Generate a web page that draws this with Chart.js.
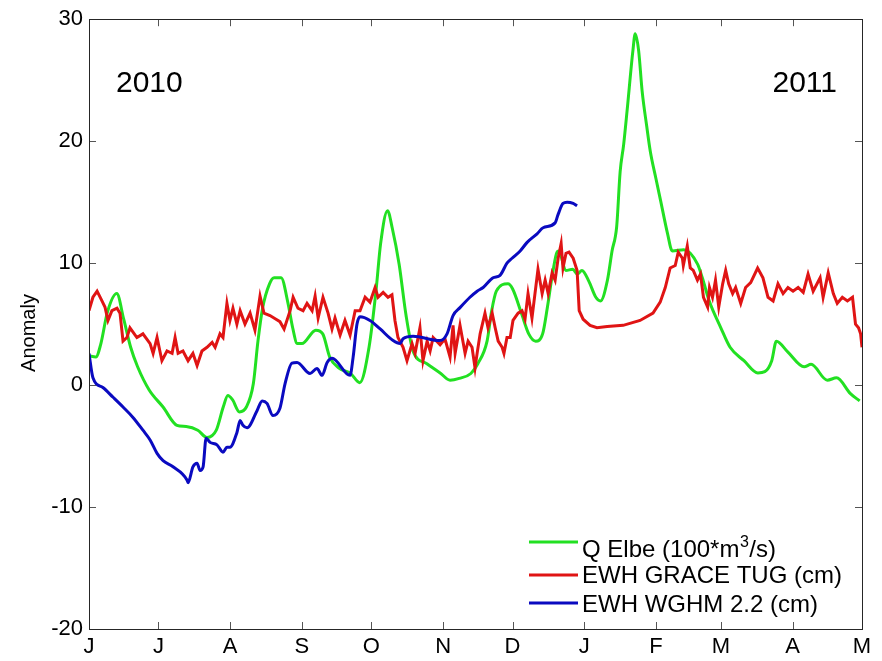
<!DOCTYPE html>
<html>
<head>
<meta charset="utf-8">
<script src="https://cdn.jsdelivr.net/npm/chart.js@4.4.0/dist/chart.umd.min.js"></script>
<style>
  html, body { margin: 0; padding: 0; background: #fff; }
  #wrap { width: 882px; height: 661px; position: relative; }
</style>
</head>
<body>
<div id="wrap"><canvas id="c"></canvas></div>
<script>
// Time axis: days since 1 June 2010, ticks at the first day of each month
const monthDays = [0, 30, 61, 92, 122, 153, 183, 214, 245, 273, 304, 334];
const monthLabels = ['J', 'J', 'A', 'S', 'O', 'N', 'D', 'J', 'F', 'M', 'A', 'M'];
const yTickValues = [-20, -10, 0, 10, 20, 30];
const seriesNames = ['Q Elbe (100*m\u00B3/s)', 'EWH GRACE TUG (cm)', 'EWH WGHM 2.2 (cm)'];

// Elbe discharge
const elbeDays = [0,3,5,8,12,15,18,21,26,32, 38,42,47,51,55,58,60,62,65,68,
  71,73,75,78,80,83,86,88,90,92, 98,101,104,108,113,117,121,124,126,129,
  131,134,137,140,146,152,156,160,165,168, 172,174,176,181,183,187,190,193,196,198,
  200,202,203,206,209,211,213,216,219,221, 224,226,228,229.5,231,232.5,235,236,237.5,239,
  241,242.5,245,247,250,252,257,263,265,268, 273,277,283,289,292,295,297,302,309,312,
  319,323,329,333];
const elbeValues = [2.4,2.3,3.3,6.0,7.5,5.4,3.1,1.5,-0.4,-1.8, -3.3,-3.4,-3.7,-4.3,-3.7,-1.8,-0.85,-1.2,-2.2,-1.8,
  0.1,3.6,6.3,8.3,8.8,8.8,6.7,4.7,3.4,3.4, 4.5,4.2,2.3,1.4,0.95,0.2,3.1,7.7,11.6,14.3,
  12.9,9.9,5.7,2.8,1.75,0.95,0.4,0.55,0.95,1.75, 3.6,6.1,7.7,8.3,7.9,5.8,4.2,3.6,4.2,6.3,
  8.8,10.8,11.0,9.4,9.5,9.1,9.4,8.5,7.2,6.9, 8.6,11.0,13.0,17.5,19.7,22.5,27.4,28.8,27.4,24.1,
  21.2,19.2,16.9,15.1,12.4,11.0,11.1,9.9,8.8,6.9, 4.7,3.1,2.0,1.0,1.1,2.0,3.6,2.7,1.5,1.7,
  0.4,0.6,-0.7,-1.3];

// GRACE TUG equivalent water height
const graceDays = [0,1.7,3.5,5.6,6.9,8.2,9.9,12.1,13.4,14.7,
  16.4,17.7,20.7,23.3,26.4,27.7,29.4,31.5,33.7,35.9,
  37.2,38.5,40.6,42.8,44.9,46.7,48.8,51.0,53.2,54.5,
  56.6,57.9,59.6,60.9,62.2,63.9,65.3,67.4,69.6,71.7,
  73.9,75.6,78.2,80.8,82.5,84.3,86.9,88.2,90.3,92.5,
  94.2,96.4,97.7,99.0,101.1,103.3,105.0,106.3,108.5,110.6,
  112.8,115.0,117.1,119.3,121.4,123.6,124.9,127.1,129.2,130.9,
  132.2,133.5,135.7,137.4,139.6,140.9,143.0,144.3,146.1,147.4,
  148.7,151.7,153.8,156.0,157.3,158.2,160.3,162.5,163.8,165.5,
  166.8,167.7,169.0,171.1,172.4,174.2,175.5,176.8,178.5,179.3,
  180.6,182.0,183.2,185.4,187.1,188.4,189.7,191.4,192.7,194.0,
  195.8,197.1,198.4,200.1,201.4,202.7,204.0,204.8,206.1,207.4,
  209.2,210.9,211.8,213.5,216.5,219.5,223.9,230.8,238.1,243.7,
  246.8,249.0,251.1,253.3,254.6,256.4,256.8,258.5,259.8,261.1,
  262.9,264.2,265.5,267.3,268.1,269.4,270.7,272.1,273.8,275.1,
  276.4,278.1,279.4,281.6,283.7,285.9,288.9,291.2,293.4,295.6,
  297.7,299.9,302.0,304.2,306.4,308.6,310.7,312.9,315.9,317.2,
  319.4,321.6,323.3,325.5,327.7,329.9,331.2,332.5,333.4,334];
const graceValues = [6.1,7.2,7.7,6.9,6.4,5.3,6.1,6.3,5.9,3.6,
  3.9,4.7,3.9,4.2,3.4,2.6,3.9,2.0,2.8,2.6,
  3.9,2.6,2.8,2.0,2.6,1.6,2.8,3.1,3.5,3.1,
  4.2,3.9,6.7,5.3,6.3,5.0,6.1,5.0,5.9,4.5,
  7.3,5.9,5.7,5.4,5.2,4.6,6.1,7.2,6.3,6.1,
  6.7,6.1,7.3,5.5,7.2,5.9,4.6,5.5,4.1,5.3,
  4.1,6.1,6.1,7.2,6.8,8.0,7.2,7.6,7.2,7.4,
  5.3,3.9,3.1,2.0,3.4,2.6,4.7,2.0,3.6,2.8,
  3.9,3.3,3.8,2.3,4.9,2.6,4.9,2.6,3.6,3.1,
  1.4,2.6,4.2,5.9,4.7,5.9,4.7,3.6,3.1,2.6,
  3.9,3.9,5.3,5.9,6.1,5.4,7.5,5.5,7.5,9.5,
  7.5,8.6,7.5,9.2,8.6,10.4,11.6,9.6,10.8,10.9,
  10.4,9.4,6.1,5.4,4.9,4.7,4.8,4.9,5.3,5.9,
  6.8,8.0,9.6,9.8,10.9,10.4,9.8,11.4,9.6,9.4,
  8.6,9.1,7.2,6.4,8.0,7.2,8.6,6.4,8.3,9.4,
  8.3,7.5,8.0,6.7,8.0,8.4,9.6,8.8,7.2,6.9,
  8.3,7.5,8.0,7.7,8.0,7.6,9.1,7.7,8.8,7.2,
  9.2,7.5,6.7,7.2,6.9,7.2,5.0,4.7,4.2,3.1];

// WGHM 2.2 equivalent water height
const wghmDays = [0,1.7,6,10.4,14.7,19,23.3,26.4,29.4,32,
  36.3,42.4,42.8,44.9,46.7,48,49.3,50.6,52.3,55.3,
  57.9,59.6,60.9,63.9,65.3,66.5,68.3,72.6,74.8,76.9,
  79.5,82.5,84.7,87.7,89.9,95.5,98.5,100.7,102.9,105,
  112.8,114.1,115.8,117.1,121.4,125.8,131.4,134.4,135.7,140,
  151.7,154.7,157.3,160.3,164.6,167.7,170.3,174.6,177.6,180.6,
  182.8,186.3,189.3,193.6,196.2,201.4,202.7,204.8,206.6,209.2,
  210.9];
const wghmValues = [2.6,0.6,-0.2,-1.0,-1.8,-2.65,-3.7,-4.5,-5.6,-6.2,
  -6.7,-7.8,-8.0,-6.7,-6.4,-7.0,-6.7,-4.35,-4.7,-4.9,
  -5.5,-5.1,-5.1,-3.9,-2.9,-3.3,-3.5,-2.1,-1.3,-1.5,
  -2.5,-1.9,0.1,1.8,1.85,0.95,1.35,0.8,1.85,2.2,
  0.8,2.25,5.0,5.6,5.3,4.6,3.65,3.4,3.8,4.0,
  3.65,4.2,5.7,6.35,7.2,7.7,8.0,8.8,9.0,10.0,
  10.4,11.0,11.7,12.4,12.9,13.3,14.0,14.9,15.0,14.9,
  14.7];

const FONT = '"Liberation Sans", Arial, Helvetica, sans-serif';
const pairs = (xs, ys) => xs.map((d, i) => ({ x: d, y: ys[i] }));

// Draws a legend label, setting a "³" as a raised, smaller "3"
function drawLabel(ctx, text, x, y) {
  const parts = text.split('\u00B3');
  let cx = x;
  parts.forEach((p, i) => {
    ctx.font = '24px ' + FONT;
    ctx.fillText(p, cx, y);
    cx += ctx.measureText(p).width;
    if (i < parts.length - 1) {
      ctx.font = '16px ' + FONT;
      ctx.fillText('3', cx + 0.5, y - 10);
      cx += ctx.measureText('3').width + 1;
    }
  });
}

// Box, inward tick marks, year labels, axis title and legend
const decorations = {
  id: 'decorations',
  afterDatasetsDraw(chart) {
    const { ctx, chartArea: a, scales: { x, y } } = chart;
    ctx.save();
    ctx.lineWidth = 1;
    ctx.strokeStyle = '#555';
    ctx.beginPath();
    x.ticks.forEach(t => {
      const px = Math.round(x.getPixelForValue(t.value)) + 0.5;
      ctx.moveTo(px, a.bottom); ctx.lineTo(px, a.bottom - 7);
      ctx.moveTo(px, a.top); ctx.lineTo(px, a.top + 7);
    });
    y.ticks.forEach(t => {
      const py = Math.round(y.getPixelForValue(t.value)) + 0.5;
      ctx.moveTo(a.left, py); ctx.lineTo(a.left + 7, py);
      ctx.moveTo(a.right, py); ctx.lineTo(a.right - 7, py);
    });
    ctx.stroke();
    ctx.strokeStyle = '#262626';
    ctx.strokeRect(Math.round(a.left) + 0.5, Math.round(a.top) + 0.5,
      Math.round(a.right - a.left), Math.round(a.bottom - a.top));

    ctx.fillStyle = '#000';
    ctx.font = '30px ' + FONT;
    ctx.textBaseline = 'alphabetic';
    ctx.textAlign = 'left';
    ctx.fillText('2010', a.left + 27, a.top + 73);
    ctx.textAlign = 'right';
    ctx.fillText('2011', a.right - 25, a.top + 73);

    ctx.save();
    ctx.font = '20px ' + FONT;
    ctx.textAlign = 'center';
    ctx.textBaseline = 'middle';
    ctx.translate(29, 333);
    ctx.rotate(-Math.PI / 2);
    ctx.fillText('Anomaly', 0, 0);
    ctx.restore();

    const rows = [
      { line: 542, base: 557 },
      { line: 575, base: 583 },
      { line: 603, base: 612 }
    ];
    ctx.textAlign = 'left';
    ctx.textBaseline = 'alphabetic';
    chart.data.datasets.forEach((ds, i) => {
      const r = rows[i];
      ctx.strokeStyle = ds.borderColor;
      ctx.lineWidth = 3;
      ctx.beginPath();
      ctx.moveTo(529, r.line); ctx.lineTo(578, r.line);
      ctx.stroke();
      ctx.fillStyle = '#000';
      drawLabel(ctx, ds.label, 582, r.base);
    });
    ctx.restore();
  }
};

new Chart(document.getElementById('c'), {
  type: 'line',
  data: {
    datasets: [
      { label: seriesNames[0], data: pairs(elbeDays, elbeValues), borderColor: '#22e022',
        borderWidth: 3, pointRadius: 0, cubicInterpolationMode: 'monotone', order: 3 },
      { label: seriesNames[1], data: pairs(graceDays, graceValues), borderColor: '#e01414',
        borderWidth: 3, pointRadius: 0, tension: 0, order: 2 },
      { label: seriesNames[2], data: pairs(wghmDays, wghmValues), borderColor: '#0a0ac0',
        borderWidth: 3, pointRadius: 0, cubicInterpolationMode: 'monotone', order: 1 }
    ]
  },
  options: {
    responsive: true,
    maintainAspectRatio: false,
    animation: false,
    events: [],
    layout: { padding: { top: 18, right: 20, left: 0, bottom: 0 } },
    plugins: { legend: { display: false }, tooltip: { enabled: false } },
    scales: {
      x: {
        type: 'linear', min: 0, max: 334,
        afterBuildTicks: s => { s.ticks = monthDays.map(v => ({ value: v })); },
        afterFit: s => { s.height = 32; },
        grid: { display: false, drawTicks: false },
        border: { display: false },
        ticks: {
          autoSkip: false, maxRotation: 0, padding: 5, color: '#000',
          font: { family: FONT, size: 22 },
          callback: v => monthLabels[monthDays.indexOf(v)]
        }
      },
      y: {
        min: -20, max: 30,
        afterBuildTicks: s => { s.ticks = yTickValues.map(v => ({ value: v })); },
        afterFit: s => { s.width = 89; },
        grid: { display: false, drawTicks: false },
        border: { display: false },
        ticks: { padding: 6, color: '#000', font: { family: FONT, size: 22 } }
      }
    }
  },
  plugins: [decorations]
});
</script>
</body>
</html>
